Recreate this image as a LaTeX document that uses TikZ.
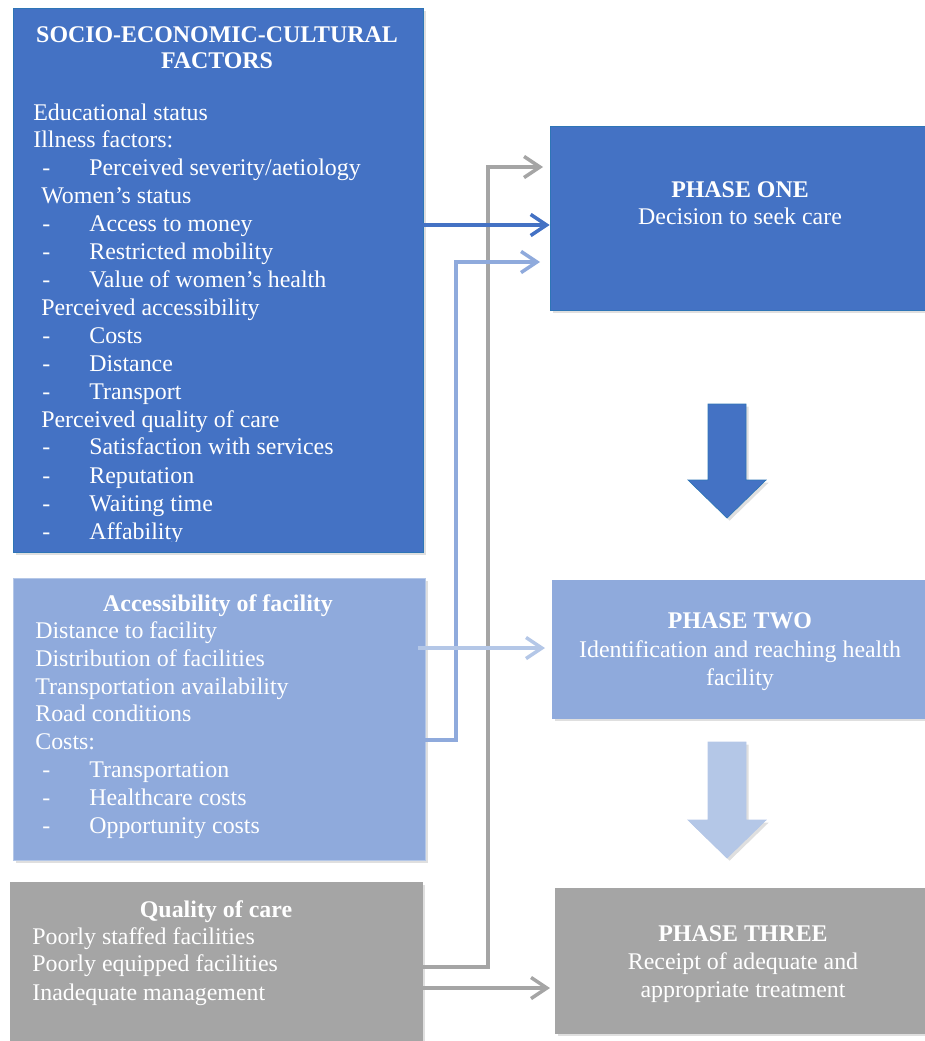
\documentclass[tikz,border=0pt]{standalone}
\usepackage{fontspec}
\setmainfont{Liberation Serif}
\usetikzlibrary{arrows.meta, positioning, fit, shadows}

\definecolor{darkblue}{HTML}{4472C4}
\definecolor{midblue}{HTML}{8FAADC}
\definecolor{paleblue}{HTML}{B4C7E7}
\definecolor{midgray}{HTML}{A5A5A5}
\definecolor{edgeblue}{HTML}{2E75B6}
\definecolor{darkedge}{HTML}{2F5597}

\begin{document}
\begin{tikzpicture}[x=0.02cm,y=-0.02cm,>={Straight Barb[length=9pt,width=12pt]},
    box/.style={inner sep=0pt,drop shadow={shadow xshift=1.5pt,shadow yshift=-1.5pt,opacity=0.25}},
    line/.style={anchor=base west,inner sep=0pt,text=white,font=\fontsize{13.6}{15.9}\selectfont},
    ctext/.style={anchor=base,inner sep=0pt,text=white,font=\fontsize{13.6}{15.9}\selectfont},
    head/.style={ctext,font=\fontsize{13.6}{15.9}\selectfont\bfseries},
    link/.style={line width=2pt,->}]

  \useasboundingbox (0,0) rectangle (925,1041);
  \clip (0,0) rectangle (925,1041);

  % factor boxes
  \node[box,fill=darkblue,draw=edgeblue,fit={(13,8) (423,552)}] (socio) {};
  \node[box,fill=midblue,draw=paleblue,fit={(13,578) (425,860)}] (access) {};
  \node[box,fill=midgray,draw=midgray,fit={(10,882) (422,1050)}] (quality) {};

  % phase boxes
  \node[box,fill=darkblue,draw=edgeblue,fit={(550,126) (935,310)}] (one) {};
  \node[box,fill=midblue,draw=midblue,fit={(552,580) (935,718)}] (two) {};
  \node[box,fill=midgray,draw=midgray,fit={(555,888) (935,1033)}] (three) {};

  % block arrows between phases
  \filldraw[darkblue,draw=edgeblue,drop shadow={shadow xshift=1.5pt,shadow yshift=-1.5pt,opacity=0.25}]
    (708,404) -- (746,404) -- (746,480) -- (766,480) -- (727,518) -- (688,480) -- (708,480) -- cycle;
  \filldraw[paleblue,draw=paleblue,drop shadow={shadow xshift=1.5pt,shadow yshift=-1.5pt,opacity=0.25}]
    (708,742) -- (746,742) -- (746,820) -- (766,820) -- (727,858) -- (688,820) -- (708,820) -- cycle;

  % socio-economic-cultural text
  \node[head] (sochead1) at (217,42) {SOCIO-ECONOMIC-CULTURAL};
  \node[head] (sochead2) at (217,68) {FACTORS};
  \begin{scope}
    \clip (13,8) rectangle (423,541);
    \foreach \x/\y/\t [count=\i] in {33/120/Educational status, 33/147/Illness factors:,
        89/175/{Perceived severity/aetiology}, 41/203/Women’s status, 89/231/Access to money,
        89/259/Restricted mobility, 89/287/Value of women’s health, 41/315/Perceived accessibility,
        89/343/Costs, 89/371/Distance, 89/399/Transport, 41/427/Perceived quality of care,
        89/454/Satisfaction with services, 89/483/Reputation, 89/511/Waiting time, 89/539/Affability}
      \node[line] (soc\i) at (\x,\y) {\t};
    \foreach \y [count=\i] in {175,231,259,287,343,371,399,454,483,511,539}
      \node[line] (socdash\i) at (42,\y) {-};
  \end{scope}

  % accessibility text
  \node[head] (acchead) at (218,611) {Accessibility of facility};
  \foreach \x/\y/\t [count=\i] in {35/638/Distance to facility, 35/666/Distribution of facilities,
      35/694/Transportation availability, 35/721/Road conditions, 35/749/Costs:,
      89/777/Transportation, 89/805/Healthcare costs, 89/833/Opportunity costs}
    \node[line] (acc\i) at (\x,\y) {\t};
  \foreach \y [count=\i] in {777,805,833}
    \node[line] (accdash\i) at (42,\y) {-};

  % quality text
  \node[head] (qualhead) at (216,917) {Quality of care};
  \foreach \y/\t [count=\i] in {944/Poorly staffed facilities, 971/Poorly equipped facilities,
      1000/Inadequate management}
    \node[line] (qual\i) at (32,\y) {\t};

  % phase text
  \node[head] (onehead) at (740,197) {PHASE ONE};
  \node[ctext] (onetext) at (740,224) {Decision to seek care};
  \node[head] (twohead) at (740,628) {PHASE TWO};
  \node[ctext] (twotext1) at (740,657) {Identification and reaching health};
  \node[ctext] (twotext2) at (740,685) {facility};
  \node[head] (threehead) at (743,941) {PHASE THREE};
  \node[ctext] (threetext1) at (743,969) {Receipt of adequate and};
  \node[ctext] (threetext2) at (743,997) {appropriate treatment};

  % connectors
  \coordinate (socout) at (423,225);
  \coordinate (accout) at (425,740);
  \coordinate (accout2) at (418,648);
  \coordinate (qualout1) at (422,967);
  \coordinate (qualout2) at (422,988);
  \coordinate (grayin) at (543,167);
  \coordinate (bluein) at (540,262);
  \coordinate (palein) at (545,648);
  \coordinate (threein) at (550,988);

  \draw[link,midgray] (qualout1) -- ++(66,0) |- (grayin);
  \draw[link,midblue] (accout) -- ++(31,0) |- (bluein);
  \draw[link,darkblue] (socout) -- (one.west |- socout);
  \draw[link,paleblue] (accout2) -- (palein);
  \draw[link,midgray] (qualout2) -- (threein);
\end{tikzpicture}
\end{document}
